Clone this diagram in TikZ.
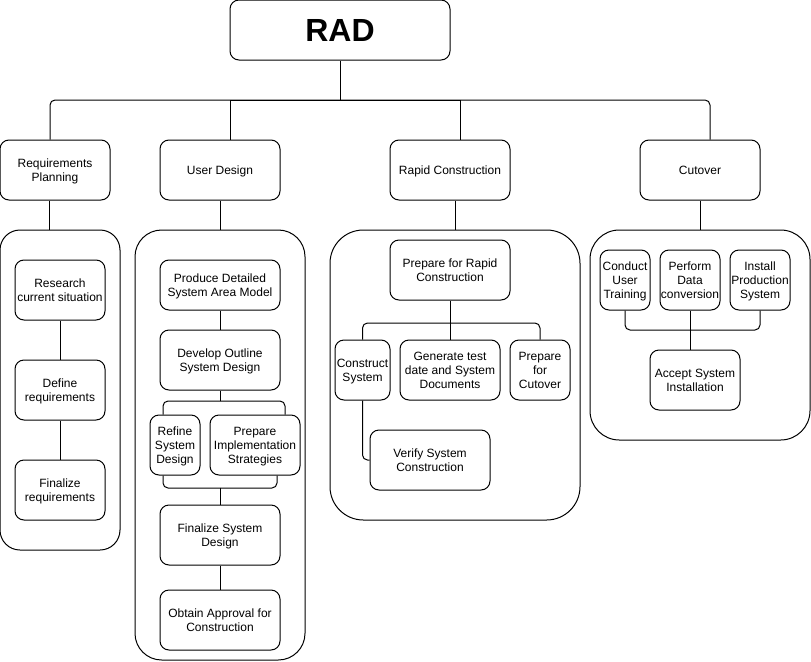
\documentclass[tikz,border=0pt]{standalone}
\usepackage{fontspec}
\setmainfont{Liberation Sans}
\usetikzlibrary{calc}
\tikzset{
  box/.style 2 args={draw,rounded corners=6.75pt,align=center,inner sep=0pt,text depth=0pt,
    minimum width=#1*0.75pt,minimum height=#2*0.75pt},
  panel/.style 2 args={draw,minimum width=#1*0.75pt,minimum height=#2*0.75pt},
  link/.style={rounded corners=3.75pt}
}
\begin{document}
\begin{tikzpicture}[x=0.75pt,y=-0.75pt,line width=0.75pt,font=\fontsize{9}{10.5}\selectfont]
\useasboundingbox (0,0) rectangle (811,661);
\node[box={220}{60},font=\fontsize{24}{28}\selectfont\bfseries](rad) at (340,30){RAD};
\coordinate (bus) at (340,100);
\node[box={110}{60}](rp) at (55,170){Requirements\\Planning};
\node[box={120}{60}](ud) at (220,170){User Design};
\node[box={120}{60}](rc) at (450,170){Rapid Construction};
\node[box={120}{60}](co) at (700,170){Cutover};
\draw(rad.south)--(bus);
\draw[link](bus)-|($(rp.north)+(-5,0)$);
\draw[link](bus)-|($(co.north)+(10,0)$);
\draw($(ud.north)+(10,0)$)|-(bus);
\draw($(rc.north)+(10,0)$)|-(bus);
\node[panel={120}{320},rounded corners=15pt](rpbox) at (60,390){};
\node[panel={170}{430},rounded corners=20pt](udbox) at (220,445){};
\node[panel={250}{290},rounded corners=25pt](rcbox) at (455,375){};
\node[panel={220}{210},rounded corners=22pt](cobox) at (700,335){};
\draw($(rp.south)+(-6,0)$)--($(rpbox.north)+(-11,0)$);
\draw(ud.south)--(udbox.north);
\draw($(rc.south)+(5,0)$)--(rcbox.north);
\draw(co.south)--(cobox.north);
\node[box={90}{60}](rp1) at (60,290){Research\\current situation};
\node[box={90}{60}](rp2) at (60,390){Define\\requirements};
\node[box={90}{60}](rp3) at (60,490){Finalize\\requirements};
\draw(rp1)--(rp2);
\draw(rp2)--(rp3);
\node[box={120}{50}](ud1) at (220,285){Produce Detailed\\System Area Model};
\node[box={120}{60}](ud2) at (220,360){Develop Outline\\System Design};
\node[box={50}{60}](ud3) at (175,445){Refine\\System\\Design};
\node[box={90}{60}](ud4) at (255,445){Prepare\\Implementation\\Strategies};
\node[box={120}{60}](ud5) at (220,535){Finalize System\\Design};
\node[box={120}{60}](ud6) at (220,620){Obtain Approval for\\Construction};
\coordinate (udsplit) at (220,401);
\coordinate (udjoin) at (220,488);
\draw(ud1)--(ud2);
\draw(ud2.south)--(udsplit);
\draw[link](udsplit)-|($(ud3.north)+(-12,0)$);
\draw[link](udsplit)-|($(ud4.north)+(30,0)$);
\draw[link]($(ud3.south)+(-12,0)$)|-(udjoin);
\draw[link]($(ud4.south)+(22,0)$)|-(udjoin);
\draw(udjoin)--(ud5.north);
\draw(ud5)--(ud6);
\node[box={120}{60}](rc1) at (450,270){Prepare for Rapid\\Construction};
\node[box={55}{60}](rc2) at (362.5,370){Construct\\System};
\node[box={100}{60}](rc3) at (450,370){Generate test\\date and System\\Documents};
\node[box={60}{60}](rc4) at (540,370){Prepare\\for\\Cutover};
\node[box={120}{60}](rc5) at (430,460){Verify System\\Construction};
\coordinate (rcsplit) at (450,323);
\draw(rc1)--(rc3);
\draw[link](rcsplit)-|(rc2.north);
\draw[link](rcsplit)-|(rc4.north);
\draw[link](rc2.south)|-(rc5.west);
\node[box={50}{60}](co1) at (625,280){Conduct\\User\\Training};
\node[box={60}{60}](co2) at (690,280){Perform\\Data\\conversion};
\node[box={60}{60}](co3) at (760,280){Install\\Production\\System};
\node[box={90}{60}](co4) at (695,380){Accept System\\Installation};
\coordinate (cojoin) at (690,330);
\draw[link](co1.south)|-(cojoin);
\draw[link](co3.south)|-(cojoin);
\draw(co2)--(co2 |- co4.north);
\end{tikzpicture}
\end{document}
